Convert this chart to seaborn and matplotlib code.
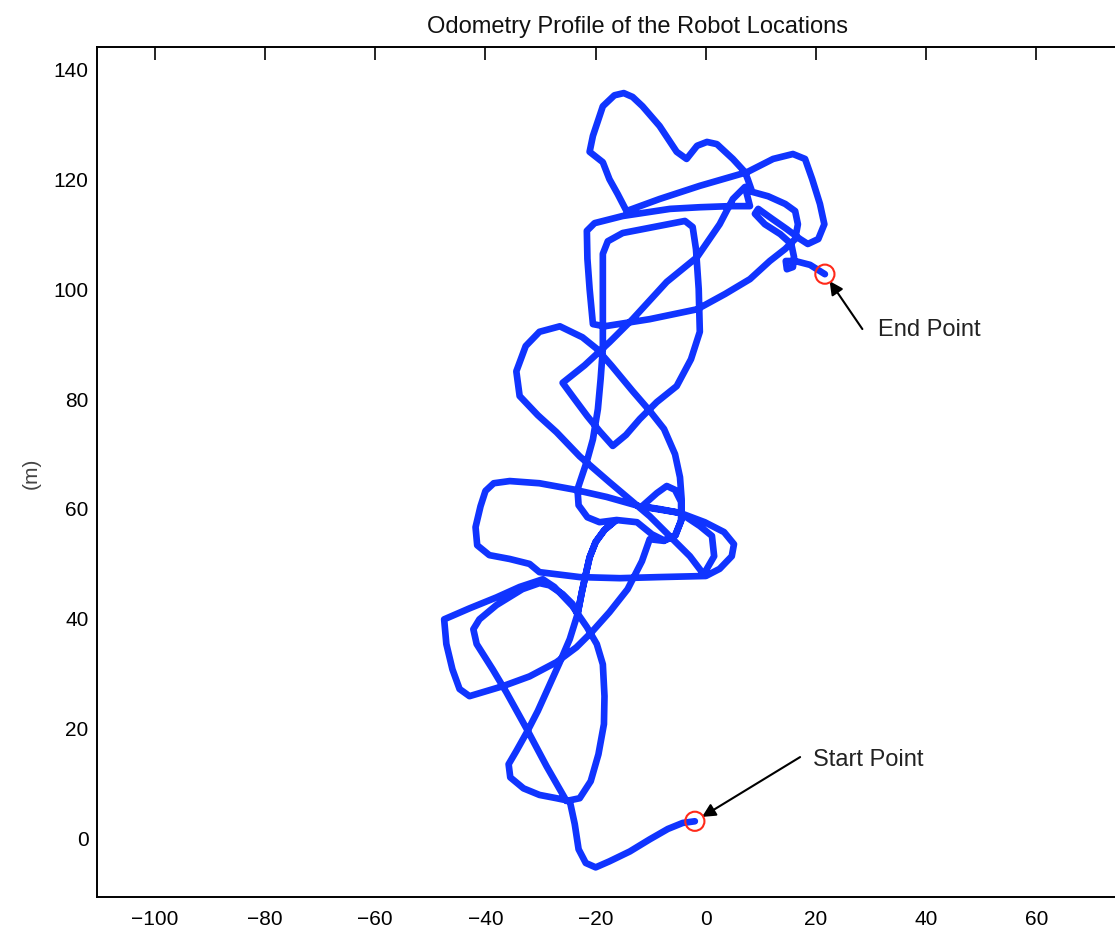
import matplotlib
matplotlib.use("Agg")
import matplotlib.pyplot as plt
import seaborn as sns
import pandas as pd

# Odometry trajectory (metres), start -> end
x_m = [
    # start tail
    -2.0, -4.2, -6.9, -10.2, -13.8, -17.5, -20.0, -21.8, -23.1, -23.8, -24.7,
    # small lower-left loop and the near-vertical track
    -27.1, -30.2, -33.1, -35.5, -35.8, -34.4, -32.5, -30.5, -28.7, -26.5, -24.7,
    -23.3, -22.5, -21.8, -21.1, -20.0, -18.4, -16.5, -18.4, -20.0, -21.1, -21.8,
    -22.5, -23.3,
    # inner lower loop and long diagonal back down
    -24.2, -26.0, -28.4, -30.2, -33.3, -38.0, -41.1, -42.2, -41.6, -38.7, -36.2,
    -32.5, -28.9, -25.3,
    # lower right arc
    -22.9, -20.9, -19.5, -18.5, -18.4, -18.7, -19.8, -21.6, -24.2, -27.5, -29.6,
    # lower outer loop
    -33.8, -38.0, -42.9, -47.5, -47.1, -46.0, -44.7, -42.9, -36.9, -32.0, -27.1,
    -23.5, -20.7, -17.5, -14.2, -11.6, -10.2, -7.6, -5.5, -4.4, -4.4, -4.7, -5.6,
    -7.6, -10.2,
    # middle left loop and middle rectangle
    -13.3, -17.1, -19.8, -22.4, -26.5, -30.2, -32.7, -34.4, -33.8, -30.5, -27.1,
    -22.9, -17.5, -10.2, -2.9, -0.4, 1.5, 1.1, -1.1, -4.7, -12.0, -18.0, -24.2,
    -30.2, -35.6, -38.5, -40.0, -40.9, -41.8, -41.5, -39.3, -35.6, -32.0, -30.2,
    -22.9, -15.6, -8.4, 0.0, 2.5, 4.7, 5.1, 3.3, -0.2, -4.7, -8.4, -11.6,
    -8.9, -7.1, -5.6, -4.5, -4.5, -5.6, -7.6, -9.8, -12.5, -16.2, -19.3, -21.5,
    -23.1, -23.3, -21.6, -20.5, -19.6, -19.1, -18.7, -18.7, -18.7, -18.7,
    # upper inner rectangle, V and long diagonal
    -17.8, -15.1, -8.4, -3.8, -2.4, -1.8, -1.3, -1.1, -2.7, -5.3, -8.9, -12.0,
    -14.5, -16.9, -19.3, -21.5, -23.8, -26.0, -22.0, -17.5, -13.3, -7.1, -1.6,
    2.5, 4.9, 7.1,
    # upper outer rectangle
    8.0, 4.4, -1.1, -6.5, -15.1, -20.2, -21.6, -21.5, -21.1, -20.5, -18.4,
    -10.2, -1.6, 3.5, 8.0, 11.6, 14.4, 16.2, 16.7, 16.2, 14.4, 11.3, 8.4,
    # top loop
    7.6, 7.1, 4.9, 2.0, 0.2, -1.6, -3.5, -5.3, -8.4, -11.5, -13.3, -14.9, -16.6,
    -18.7, -20.5, -21.1, -18.7, -17.5, -16.0, -14.4,
    # right loop and finish
    -8.4, -1.1, 7.5, 12.2, 15.8, 18.0, 19.3, 20.7, 21.5, 20.4, 18.5, 17.1,
    14.7, 12.0, 9.5, 8.9, 10.7, 13.5, 15.5, 16.0, 15.8, 14.7, 14.5, 16.2, 18.9,
    21.6,
]
y_m = [
    2.9, 2.6, 1.5, -0.4, -2.6, -4.4, -5.5, -4.7, -2.2, 2.4, 6.6,
    7.1, 7.7, 8.9, 10.9, 13.3, 15.7, 19.1, 23.0, 27.0, 31.9, 36.1,
    40.6, 44.7, 47.9, 51.0, 53.8, 56.0, 57.6, 56.0, 53.8, 51.0, 47.9,
    44.7, 40.6,
    42.5, 44.3, 45.9, 46.3, 45.2, 42.3, 39.7, 37.9, 35.2, 30.6, 26.4,
    19.7, 12.9, 6.6,
    7.1, 10.2, 15.1, 20.6, 25.7, 31.5, 35.2, 38.3, 42.1, 45.6, 47.0,
    45.6, 43.7, 41.7, 39.7, 35.2, 30.6, 27.0, 25.7, 27.5, 29.3, 31.9,
    34.6, 37.4, 41.0, 45.2, 50.3, 54.3, 54.0, 55.0, 58.0, 61.6, 65.6, 69.8,
    74.4, 77.7,
    81.3, 85.9, 89.0, 91.1, 93.1, 92.1, 89.5, 84.9, 80.4, 76.9, 73.8,
    69.4, 64.7, 58.5, 51.2, 47.9, 51.2, 54.9, 56.7, 59.1, 60.3, 62.0, 63.4,
    64.5, 64.9, 64.5, 63.1, 60.3, 56.5, 53.2, 51.4, 50.7, 49.8, 48.3,
    47.4, 47.2, 47.4, 47.6, 48.9, 51.2, 53.4, 55.6, 57.4, 59.1, 59.8, 60.3,
    62.7, 64.0, 63.3, 61.1, 57.6, 55.0, 54.1, 55.2, 57.4, 57.8, 57.4, 58.3,
    60.5, 63.4, 68.5, 72.5, 78.0, 83.5, 89.0, 94.4, 100.8, 106.3,
    108.6, 110.1, 111.4, 112.3, 111.2, 107.2, 99.9, 92.1, 87.1, 82.2, 79.3, 76.2,
    73.3, 71.3, 74.0, 76.7, 79.8, 82.8, 86.0, 90.2, 94.4, 101.2, 105.7,
    111.7, 116.3, 118.5,
    115.0, 115.0, 114.8, 114.5, 113.2, 111.9, 110.5, 105.4, 99.9, 93.5, 93.1,
    94.4, 96.2, 99.0, 101.7, 105.0, 107.2, 109.0, 111.7, 114.1, 115.4, 116.8, 117.6,
    119.9, 121.2, 123.6, 126.3, 126.7, 126.0, 123.6, 124.9, 129.6, 133.2, 134.9,
    135.6, 135.2, 133.2,
    127.8, 124.9, 123.0, 119.9, 117.2, 114.1,
    116.3, 118.7, 121.2, 123.6, 124.5, 123.6, 119.9, 115.4, 111.7, 109.0, 108.1, 109.0,
    110.8, 112.7, 114.5, 113.6, 111.7, 109.9, 108.1, 105.7, 103.9, 103.5, 105.0, 105.0, 104.3,
    102.6,
]

x_ticks = [-100, -80, -60, -40, -20, 0, 20, 40, 60]
x_ticks_top = [-100, -80, -60, -40, -20, 0, 20, 40, 60, 80]
y_ticks = [0, 20, 40, 60, 80, 100, 120, 140]
title_text = "Odometry Profile of the Robot Locations"
start_label = "Start Point"
end_label = "End Point"
start_label_pos = (19.5, 14.2)
start_arrow_tail = (17.1, 14.6)
end_label_pos = (31.3, 92.6)
end_arrow_tail = (28.4, 92.6)

sns.set_theme(style="white")
plt.rcParams['font.family'] = ['Liberation Sans', 'DejaVu Sans']

fig = plt.figure(figsize=(11.15, 9.29), dpi=100)
ax = fig.add_axes([97 / 1115, 31 / 929, 1080 / 1115, 850 / 929])

df = pd.DataFrame({"x": x_m, "y": y_m, "step": range(len(x_m))})
sns.lineplot(data=df, x="x", y="y", sort=False, estimator=None, color="#1034ff",
             linewidth=4.8, ax=ax, solid_joinstyle="round", solid_capstyle="round")

ends = pd.DataFrame({"x": [x_m[0], x_m[-1]], "y": [y_m[0], y_m[-1]]})
sns.scatterplot(data=ends, x="x", y="y", ax=ax, s=190, facecolors="none",
                edgecolor="#ff2a1a", linewidth=1.5, zorder=5)

arrow = dict(arrowstyle="-|>", color="black", lw=1.5, mutation_scale=20,
             shrinkA=0, shrinkB=6)
ax.annotate("", xy=(x_m[0], y_m[0]), xytext=start_arrow_tail, arrowprops=arrow)
ax.annotate("", xy=(x_m[-1], y_m[-1]), xytext=end_arrow_tail, arrowprops=arrow)
ax.text(*start_label_pos, start_label, fontsize=17, ha="left", va="center",
        color="#222222")
ax.text(*end_label_pos, end_label, fontsize=17, ha="left", va="center",
        color="#222222")

ax.set_xlim(-110.5, 85.5)
ax.set_ylim(-10.9, 144)
ax.set_xticks(x_ticks_top)
ax.set_xticklabels([str(t).replace("-", "\u2212") if t in x_ticks else ""
                    for t in x_ticks_top])
ax.set_yticks(y_ticks)
ax.tick_params(direction="in", length=9, width=1.2, top=True, right=True,
               labelsize=15, colors="black")
ax.tick_params(axis="x", pad=9)
ax.tick_params(axis="y", pad=6)
for sp in ax.spines.values():
    sp.set_color("black")
    sp.set_linewidth(1.4)
ax.set_xlabel("")
ax.set_ylabel("(m)", fontsize=15, labelpad=9, color="#444444")
ax.set_title(title_text, fontsize=17, pad=11, color="#111111")

fig.savefig("out.png", dpi=100)
